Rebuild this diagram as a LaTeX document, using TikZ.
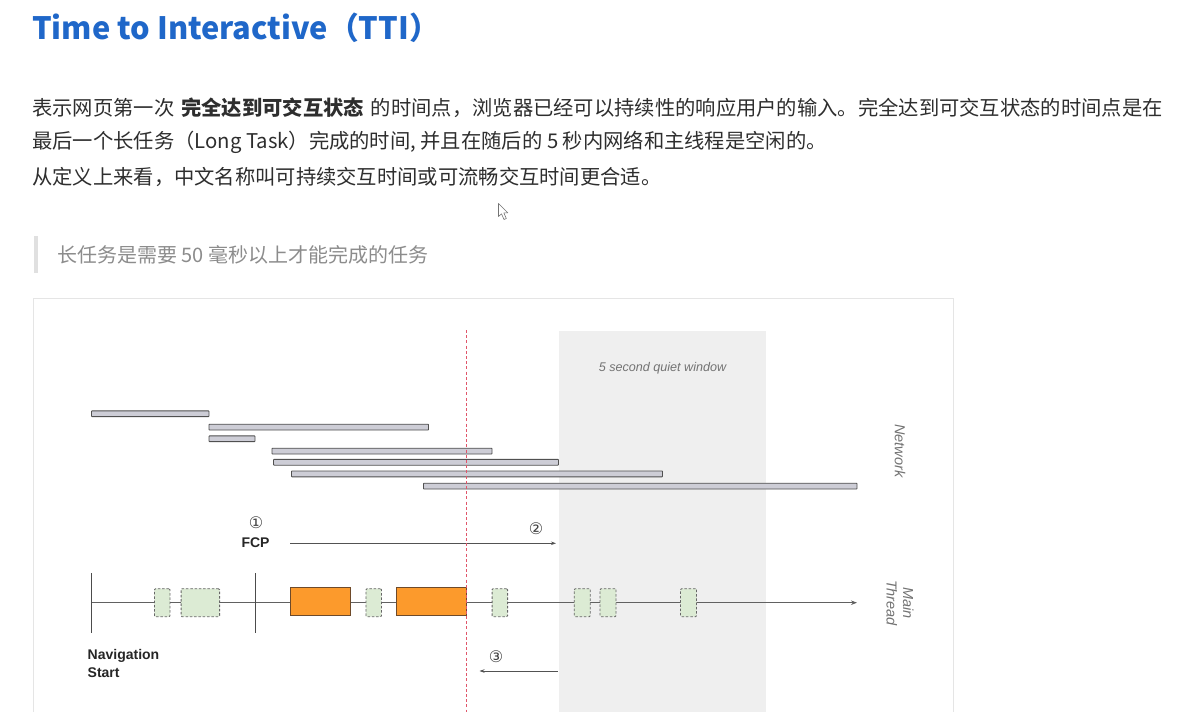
\documentclass[tikz,border=0pt]{standalone}
\usepackage{fontspec}
\setmainfont{Noto Sans CJK SC}
\newfontfamily\arialf{Liberation Sans}
\newfontfamily\djvf{DejaVu Sans}
\usetikzlibrary{arrows.meta}
\definecolor{titleblue}{HTML}{1F67C9}
\definecolor{bodytext}{HTML}{2E2E2E}
\definecolor{notetext}{HTML}{8C8C8C}
\definecolor{quietgray}{HTML}{EFEFEF}
\definecolor{barfill}{HTML}{CDCDD6}
\definecolor{barline}{HTML}{505050}
\definecolor{taskorange}{HTML}{FC9A2C}
\definecolor{taskedge}{HTML}{6E4A2A}
\definecolor{idlegreen}{HTML}{DCEBD4}
\definecolor{ttired}{HTML}{E0566A}
\tikzset{
  netbar/.style={draw=barline, fill=barfill, line width=0.9pt, rounded corners=0.6pt},
  longtask/.style={draw=taskedge, fill=taskorange, line width=1pt, inner sep=0pt, minimum height=28.5pt},
  idletask/.style={draw=black!60, fill=idlegreen, dashed, dash pattern=on 2.5pt off 1.8pt, line width=0.9pt, inner sep=0pt, minimum height=28pt, rounded corners=1pt},
  thread/.style={draw=black!62, line width=0.9pt},
  tick/.style={draw=black!70, line width=1pt},
  smallarrow/.style={draw=black!68, line width=0.85pt, -{Stealth[length=5pt,width=3.5pt]}},
  body/.style={font=\fontsize{20.3}{24}\selectfont, text=bodytext, anchor=west, inner sep=0pt},
  dlabel/.style={font=\arialf\bfseries\fontsize{14}{16.5}\selectfont, text=black!85, inner sep=0pt},
  circnum/.style={font=\djvf\fontsize{16}{18}\selectfont, text=black!75, inner sep=0pt},
  sidelabel/.style={font=\arialf\itshape\fontsize{14.5}{16.5}\selectfont, text=black!55, inner sep=0pt, rotate=-90, align=center},
}
\begin{document}
\begin{tikzpicture}[x=1pt, y=-1pt]
\useasboundingbox (0,0) rectangle (1200,712);
\fill[white] (0,0) rectangle (1200,712);

% title
\node[anchor=base west, inner sep=0pt, text=titleblue, font=\bfseries\fontsize{30.8}{34}\selectfont] (title) at (32,39.5) {Time to Interactive（TTI）};

% paragraph
\node[body] (l1) at (32,108) {表示网页第一次\hspace{7pt}\textbf{完全达到可交互状态}\hspace{7pt}的时间点，浏览器已经可以持续性的响应用户的输入。完全达到可交互状态的时间点是在};
\node[body] (l2) at (32,142) {最后一个长任务（Long Task）完成的时间, 并且在随后的 5 秒内网络和主线程是空闲的。};
\node[body] (l3) at (32,177) {从定义上来看，中文名称叫可持续交互时间或可流畅交互时间更合适。};

% cursor
\draw[draw=black!55, fill=white, line width=0.6pt, line join=round] (498.5,203.5) -- (498.5,216.5) -- (501.5,213.8) -- (504,219.5) -- (506.3,218.5) -- (503.8,212.8) -- (507.8,212.8) -- cycle;

% note
\fill[black!12] (34,236) rectangle (37.5,273);
\node[anchor=west, inner sep=0pt, text=notetext, font=\fontsize{20}{24}\selectfont] (note) at (57,255) {长任务是需要 50 毫秒以上才能完成的任务};

% panel
\draw[black!10, line width=1pt] (33,298) -- (953,298);
\draw[black!10, line width=1pt] (33,298) -- (33,712);
\draw[black!10, line width=1pt] (953,298) -- (953,712);

% quiet window
\fill[quietgray] (558.5,330.5) rectangle (766,712);
\node[font=\arialf\itshape\fontsize{12.6}{15}\selectfont, text=black!55, inner sep=0pt] (quiet) at (662.5,368) {5 second quiet window};

% network bars
\draw[netbar] (91.5,410.8) rectangle (209,416.6);
\draw[netbar] (209,424.2) rectangle (428.5,430);
\draw[netbar] (209,435.8) rectangle (255,441.6);
\draw[netbar] (272,448.2) rectangle (492,454);
\draw[netbar] (273.5,459.4) rectangle (558.5,465.2);
\draw[netbar] (291.5,471) rectangle (662.5,476.8);
\draw[netbar] (423.5,483.2) rectangle (857,489);
\node[sidelabel] (network) at (900,451) {Network};

% FCP and arrow 2
\node[circnum] (n1) at (256,522.5) {①};
\node[dlabel] (fcp) at (255.5,543) {FCP};
\coordinate (a2s) at (290,543.3);
\coordinate (a2e) at (556,543.3);
\draw[smallarrow] (a2s) -- (a2e);
\node[circnum] (n2) at (536,529) {②};

% main thread
\coordinate (mtstart) at (91,602.7);
\coordinate (mtend) at (857,602.7);
\draw[thread, -{Stealth[length=6pt,width=4.5pt]}] (mtstart) -- (mtend);
\draw[tick] (91,573) -- (91,633);
\draw[tick] (255,573) -- (255,633);

\node[idletask, minimum width=15.5pt] (i1) at (162.2,602.7) {};
\node[idletask, minimum width=38.5pt] (i2) at (200.3,602.7) {};
\node[longtask, minimum width=60pt] (t1) at (320.2,601.7) {};
\node[idletask, minimum width=15.5pt] (i3) at (373.7,602.7) {};
\node[longtask, minimum width=70pt] (t2) at (431.7,601.7) {};
\node[idletask, minimum width=15.5pt] (i4) at (499.8,602.7) {};
\node[idletask, minimum width=16pt] (i5) at (582.2,602.7) {};
\node[idletask, minimum width=16pt] (i6) at (608,602.7) {};
\node[idletask, minimum width=16pt] (i7) at (688.5,602.7) {};

\node[sidelabel] (mainthread) at (900,603) {Main\\Thread};

% navigation start
\node[dlabel, anchor=north west, align=left, font=\arialf\bfseries\fontsize{14}{18}\selectfont] (nav) at (87.5,649.5) {Navigation\\Start};

% arrow 3
\node[circnum] (n3) at (496,656.5) {③};
\coordinate (a3s) at (558,671);
\coordinate (a3e) at (479.5,671);
\draw[smallarrow] (a3s) -- (a3e);

% TTI line
\draw[ttired, line width=1pt, dash pattern=on 3pt off 2.2pt] (466.5,330) -- (466.5,712);
\end{tikzpicture}
\end{document}
